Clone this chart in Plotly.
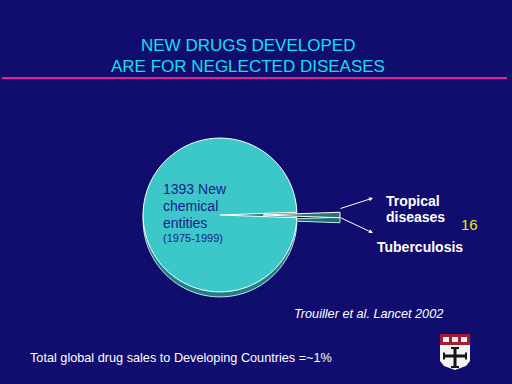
import plotly.graph_objects as go

# ---- data ----
slice_labels = ["Tropical diseases + Tuberculosis", "Other new chemical entities"]
slice_values = [16, 1377]          # 1393 total NCEs (1975-1999)
total_nce = 1393
neglected_count = 16
slice_pull = [0.56, 0]

W, H = 512, 384
BG = "#110D6E"


def px(x):
    return x / W


def py(y):
    return 1 - y / H


# pie placement (pixel box)
cx, cy, box = 220, 215, 240
small_frac = slice_values[0] / sum(slice_values)
rotation = 90 - 360 * small_frac / 2

fig = go.Figure()

# 3D rim (shadow) pie
shift = 5
fig.add_trace(go.Pie(
    labels=slice_labels, values=slice_values, sort=False, direction="clockwise",
    rotation=rotation, pull=slice_pull, textinfo="none", hoverinfo="skip",
    marker=dict(colors=["#1E6E72", "#1E7F86"], line=dict(color="#BFE8E8", width=1)),
    domain=dict(x=[px(cx - box / 2), px(cx + box / 2)],
                y=[py(cy + shift + box / 2), py(cy + shift - box / 2)]),
))
# face pie
fig.add_trace(go.Pie(
    labels=slice_labels, values=slice_values, sort=False, direction="clockwise",
    rotation=rotation, pull=slice_pull, textinfo="none", hoverinfo="skip",
    marker=dict(colors=["#2F7370", "#3CC8C8"], line=dict(color="#FFFFFF", width=1)),
    domain=dict(x=[px(cx - box / 2), px(cx + box / 2)],
                y=[py(cy + box / 2), py(cy - box / 2)]),
))

FONT = "Liberation Sans, Arial, sans-serif"
ann = []


def text(x, y, s, size, color, xanchor="left", bold=False, italic=False):
    if bold:
        s = "<b>" + s + "</b>"
    if italic:
        s = "<i>" + s + "</i>"
    ann.append(dict(x=px(x), y=py(y), xref="paper", yref="paper", text=s,
                    showarrow=False, xanchor=xanchor, yanchor="middle",
                    font=dict(family=FONT, size=size, color=color)))


text(248, 45, "NEW DRUGS DEVELOPED", 17, "#10E0F0", "center")
text(248, 67, "ARE FOR NEGLECTED DISEASES", 17, "#10E0F0", "center")

text(161, 189, f"{total_nce} New", 14, "#1A1A8C")
text(161, 206, "chemical", 14, "#1A1A8C")
text(161, 223, "entities", 14, "#1A1A8C")
text(161, 238, "(1975-1999)", 11, "#1A1A8C")

text(384, 201, "Tropical", 14, "white", bold=True)
text(384, 217, "diseases", 14, "white", bold=True)
text(375, 247, "Tuberculosis", 14, "white", bold=True)
text(459, 224, str(neglected_count), 15, "#F0F000")

text(292, 314, "Trouiller et al. Lancet 2002", 12.7, "white", italic=True)
text(28, 358, "Total global drug sales to Developing Countries =~1%", 12.7, "white")

# arrows
for hx, hy, tx, ty in [(373, 198, 339, 209), (373, 233, 339, 217)]:
    ann.append(dict(x=px(hx), y=py(hy), xref="paper", yref="paper", text="",
                    showarrow=True, axref="pixel", ayref="pixel",
                    ax=tx - hx, ay=ty - hy, arrowhead=2, arrowsize=0.8,
                    arrowwidth=1, arrowcolor="white", standoff=0))

shapes = []
# magenta rule under title
shapes.append(dict(type="line", xref="paper", yref="paper",
                   x0=px(2), x1=px(507), y0=py(78), y1=py(78),
                   line=dict(color="#E8209A", width=2)))


def rect(x0, y0, x1, y1, color):
    shapes.append(dict(type="rect", xref="paper", yref="paper",
                       x0=px(x0), x1=px(x1), y0=py(y1), y1=py(y0),
                       fillcolor=color, line=dict(width=0)))


def path(pts, color):
    d = "M " + " L ".join(f"{px(x):.5f},{py(y):.5f}" for x, y in pts) + " Z"
    shapes.append(dict(type="path", xref="paper", yref="paper", path=d,
                       fillcolor=color, line=dict(width=0)))


# small shield logo
rect(440, 334, 470, 345, "#A51C30")
for bx in (443, 452, 461):
    rect(bx, 337, bx + 6, 342, "#F4F4F4")
path([(440, 345), (470, 345), (470, 361), (466, 366), (455, 370), (444, 366), (440, 361)], "#F4F4F4")
rect(453.5, 347, 456.5, 368, "#151515")
rect(443, 354.5, 467, 357.5, "#151515")
rect(451, 347, 459, 349, "#151515")
rect(451, 366, 459, 368, "#151515")
rect(443, 352.5, 445, 359.5, "#151515")
rect(465, 352.5, 467, 359.5, "#151515")

fig.update_layout(
    width=W, height=H, margin=dict(l=0, r=0, t=0, b=0),
    paper_bgcolor=BG, plot_bgcolor=BG, showlegend=False,
    annotations=ann, shapes=shapes,
)

fig.write_html(
    "out.html",
    config={"displayModeBar": False},
    post_script="document.body.style.margin='0';document.body.style.background='" + BG + "';",
)
